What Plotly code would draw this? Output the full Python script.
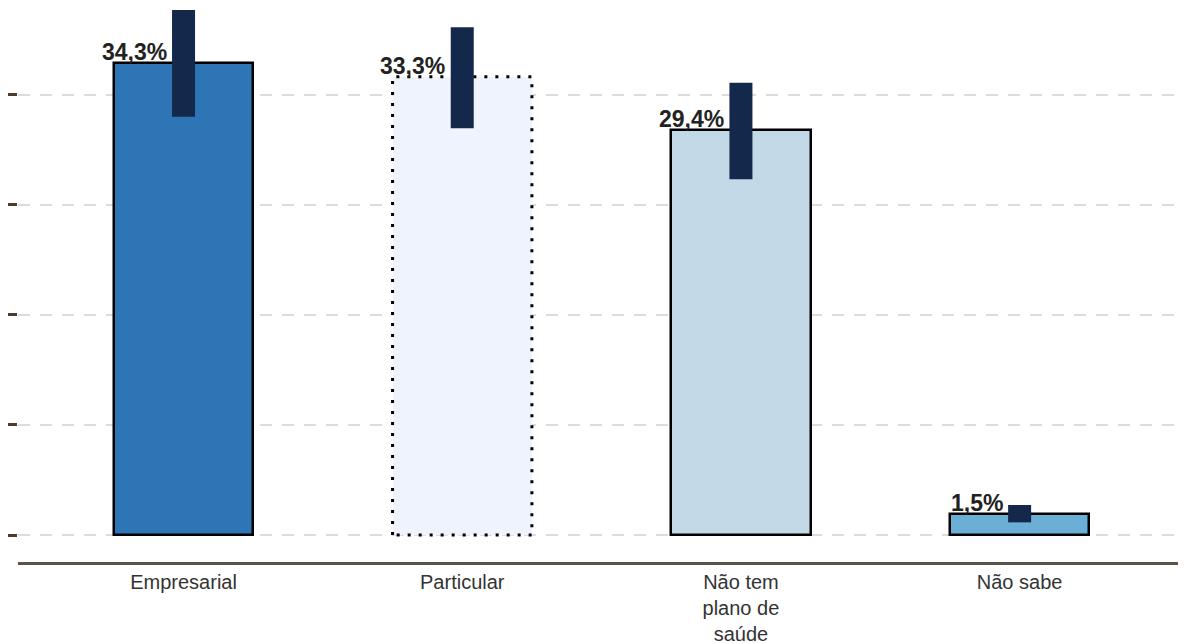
import plotly.graph_objects as go

# health plan type - share of respondents (%)
categories = ["Empresarial", "Particular", "Não tem<br>plano de<br>saúde", "Não sabe"]
values = [34.3, 33.3, 29.4, 1.5]
err_plus = [3.85, 3.6, 3.47, 0.68]
err_minus = [3.9, 3.74, 3.55, 0.58]
labels = ["34,3%", "33,3%", "29,4%", "1,5%"]
grid_ticks = [0, 8, 16, 24, 32]

bar_colors = ["#2e75b6", "#eef3fd", "#c3d9e8", "#6baed6"]
line_widths = [2.5, 0, 2.5, 2.5]
BAR_W = 0.5
NAVY = "#14284b"
FONT = "Liberation Sans, Arial, sans-serif"

xs = list(range(len(categories)))

fig = go.Figure()
fig.add_trace(go.Bar(
    x=xs, y=values, width=BAR_W,
    marker=dict(color=bar_colors, line=dict(color="black", width=line_widths)),
    hoverinfo="skip", showlegend=False,
))

# dotted outline for "Particular"
i = 1
ox = [i - BAR_W / 2, i - BAR_W / 2, i + BAR_W / 2, i + BAR_W / 2, i - BAR_W / 2]
oy = [0, values[i], values[i], 0, 0]
fig.add_trace(go.Scatter(
    x=ox, y=oy, mode="lines",
    line=dict(color="black", width=3, dash="3px,8px"),
    hoverinfo="skip", showlegend=False,
))

# confidence intervals as thick navy strokes
fig.add_trace(go.Scatter(
    x=xs, y=values, mode="markers",
    marker=dict(size=1, opacity=0),
    error_y=dict(type="data", symmetric=False, array=err_plus, arrayminus=err_minus,
                 color=NAVY, thickness=23, width=0),
    hoverinfo="skip", showlegend=False,
))

for x, v, t in zip(xs, values, labels):
    fig.add_annotation(
        x=x, y=v, text=t, showarrow=False,
        xanchor="right", yanchor="bottom", xshift=-15, yshift=-4,
        font=dict(family=FONT, size=23, color="#222222", weight="bold"),
    )

fig.update_xaxes(
    range=[-0.594, 3.597],
    tickvals=xs, ticktext=categories,
    showgrid=False, zeroline=False,
    showline=True, linecolor="#5c5246", linewidth=2.5,
    ticks="", tickfont=dict(size=20, color="#333333"),
)
fig.update_yaxes(
    range=[-1.962, 38.3],
    tickvals=grid_ticks, showticklabels=False,
    ticks="outside", ticklen=9, tickwidth=2.5, tickcolor="#4a3c30",
    showgrid=True, gridcolor="#dcdcdc", gridwidth=2, griddash="12px,10px",
    zeroline=False, showline=False,
)
fig.update_layout(
    width=1178, height=636,
    margin=dict(l=10, r=0, t=0, b=82),
    plot_bgcolor="white", paper_bgcolor="white",
    font=dict(family=FONT),
    bargap=0,
)

fig.write_html("out.html")
